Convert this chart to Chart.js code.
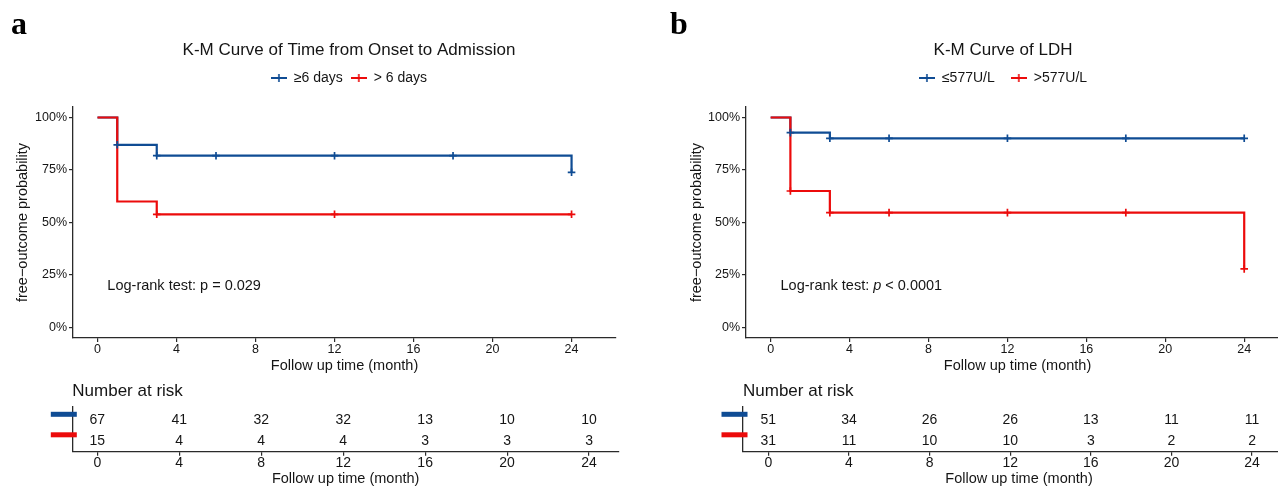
<!DOCTYPE html>
<html>
<head>
<meta charset="utf-8">
<script src="https://cdn.jsdelivr.net/npm/chart.js@4.4.1/dist/chart.umd.min.js"></script>
<style>
  html,body{margin:0;padding:0;background:#fff;width:1278px;height:487px;overflow:hidden;position:relative}
  canvas{position:absolute}
  .tag{position:absolute;font:bold 32px "Liberation Serif","DejaVu Serif",serif;line-height:1;color:#000}
</style>
</head>
<body>
<canvas id="km-a" width="700" height="380" style="left:0;top:0"></canvas>
<canvas id="risk-a" width="640" height="107" style="left:0;top:380px"></canvas>
<canvas id="km-b" width="680" height="380" style="left:640px;top:0"></canvas>
<canvas id="risk-b" width="660" height="107" style="left:640px;top:380px"></canvas>
<div class="tag" style="left:11px;top:7px">a</div>
<div class="tag" style="left:670px;top:7px">b</div>
<script>
/* K-M curves + number-at-risk tables, two panels */

const xTicks=[0,4,8,12,16,20,24];
const yTicks=[0,25,50,75,100];

// panel a — time from onset to admission
const timeA=[0,1,3,24];
const survA_le6=[100,87.0,81.8,73.9];
const survA_gt6=[100,60.0,53.9,53.9];
const censA_le6_t=[1,3,6,12,18,24];
const censA_le6_s=[87.0,81.8,81.8,81.8,81.8,73.9];
const censA_gt6_t=[3,12,24];
const censA_gt6_s=[53.9,53.9,53.9];

// panel b — LDH
const timeB=[0,1,3,24];
const survB_le577=[100,92.8,90.1,90.1];
const survB_gt577=[100,65.0,54.7,27.9];
const censB_t=[1,3,6,12,18,24];
const censB_le577_s=[92.8,90.1,90.1,90.1,90.1,90.1];
const censB_gt577_s=[65.0,54.7,54.7,54.7,54.7,27.9];

// number at risk
const riskTimes=[0,4,8,12,16,20,24];
const riskA_le6=[67,41,32,32,13,10,10];
const riskA_gt6=[15,4,4,4,3,3,3];
const riskB_le577=[51,34,26,26,13,11,11];
const riskB_gt577=[31,11,10,10,3,2,2];

const BLUE='#0F4C94', RED='#EC0B0B', INK='#151515', AXIS='#2a2a2a';
const FONT='"Liberation Sans", Arial, sans-serif';

function legendMark(color){
  const c=document.createElement('canvas'); c.width=16; c.height=10;
  const g=c.getContext('2d'); g.strokeStyle=color;
  g.lineWidth=2; g.beginPath(); g.moveTo(0,5); g.lineTo(16,5); g.stroke();
  g.lineWidth=1.6; g.beginPath(); g.moveTo(8,1); g.lineTo(8,9); g.stroke();
  return c;
}
const pts=(xs,ys)=>xs.map((x,i)=>({x,y:ys[i]}));

function curve(label,xs,ys,color,order){
  return{label,data:pts(xs,ys),borderColor:color,backgroundColor:color,borderWidth:2.2,
    stepped:'before',pointRadius:0,pointStyle:legendMark(color),order};
}
function marks(xs,ys,color){
  return{label:'censor',data:pts(xs,ys),showLine:false,borderColor:color,backgroundColor:color,
    pointStyle:'cross',pointRadius:3.8,borderWidth:1.7,order:-1};
}

const logrankPlugin={id:'logrank',afterDatasetsDraw(chart,args,opts){
  const{ctx,scales:{x,y}}=chart;
  let cx=x.getPixelForValue(opts.at[0]); const cy=y.getPixelForValue(opts.at[1]);
  ctx.save(); ctx.fillStyle=INK; ctx.textBaseline='middle'; ctx.textAlign='left';
  opts.parts.forEach(p=>{
    ctx.font=(p.italic?'italic ':'')+'14.5px '+FONT;
    ctx.fillText(p.text,cx,cy); cx+=ctx.measureText(p.text).width;
  });
  ctx.restore();
}};

const riskPlugin={id:'riskRows',afterDatasetsDraw(chart,args,opts){
  const{ctx,chartArea,scales:{x,y}}=chart;
  ctx.save(); ctx.textAlign='center'; ctx.textBaseline='middle'; ctx.font='14px '+FONT;
  opts.rows.forEach(r=>{
    const py=y.getPixelForValue(r.v);
    ctx.fillStyle=r.color; ctx.fillRect(chartArea.left-21.5,py-8.7,26,5);
    ctx.fillStyle=INK;
    r.counts.forEach((n,i)=>ctx.fillText(String(n),x.getPixelForValue(riskTimes[i]),py));
  });
  ctx.restore();
}};

const tickGrid={display:true,drawOnChartArea:false,drawTicks:true,tickLength:4,color:AXIS,lineWidth:1.2};
const axisBorder={display:true,color:AXIS,width:1.3};
const helper=(pos,size)=>({type:'linear',position:pos,display:true,grid:{display:false},border:{display:false},
  ticks:{display:false},afterFit:s=>{if(pos==='top')s.height=size;else s.width=size;}});

function kmChart(id,o){
  return new Chart(document.getElementById(id),{
    type:'line',
    data:{datasets:o.datasets},
    options:{
      responsive:false,animation:false,events:[],
      layout:{padding:{left:o.padL,right:o.padR,top:0,bottom:0}},
      plugins:{
        title:{display:true,text:o.title,color:INK,font:{family:FONT,size:17,weight:'normal',lineHeight:1.2},
          padding:{top:39.8,bottom:10.8-o.legendPad}},
        legend:{display:true,labels:{usePointStyle:true,pointStyleWidth:16,padding:o.legendPad,color:INK,
          font:{family:FONT,size:14},filter:it=>it.text!=='censor',sort:(a,b)=>a.datasetIndex-b.datasetIndex}},
        tooltip:{enabled:false},
        logrank:{at:[0.5,20],parts:o.logrank}
      },
      scales:{
        x:{type:'linear',min:o.xMin,max:o.xMax,
          afterBuildTicks:s=>{s.ticks=xTicks.map(v=>({value:v}));},
          afterFit:s=>{s.height=42;},
          grid:tickGrid,border:axisBorder,
          ticks:{color:INK,autoSkip:false,maxRotation:0,padding:1,font:{family:FONT,size:12.5,lineHeight:1}},
          title:{display:true,text:'Follow up time (month)',color:INK,font:{family:FONT,size:14.5,lineHeight:1.2},padding:{top:0,bottom:5.8}}},
        y:{type:'linear',min:-5,max:105,
          afterBuildTicks:s=>{s.ticks=yTicks.map(v=>({value:v}));},
          afterFit:s=>{s.width=o.yW;},
          grid:tickGrid,border:axisBorder,
          ticks:{color:INK,padding:2,font:{family:FONT,size:12.5},callback:v=>v+'%'},
          title:{display:true,text:'free\u2212outcome probability',color:INK,font:{family:FONT,size:14.5,lineHeight:1.2},
            padding:{top:o.yTitlePad,bottom:0}}},
        gapTop:helper('top',12),
        gapRight:helper('right',o.gapR)
      }
    },
    plugins:[logrankPlugin]
  });
}

function riskChart(id,o){
  return new Chart(document.getElementById(id),{
    type:'scatter',
    data:{datasets:[{data:[],pointRadius:0}]},
    options:{
      responsive:false,animation:false,events:[],
      layout:{padding:{left:o.padL,right:o.padR,top:0,bottom:0}},
      plugins:{
        legend:{display:false},tooltip:{enabled:false},
        title:{display:true,align:'start',text:'Number at risk',color:INK,
          font:{family:FONT,size:17,weight:'normal',lineHeight:1.2},padding:{top:1.3,bottom:5}},
        riskRows:{rows:o.rows}
      },
      scales:{
        x:{type:'linear',min:o.xMin,max:o.xMax,
          afterBuildTicks:s=>{s.ticks=xTicks.map(v=>({value:v}));},
          afterFit:s=>{s.height=35.3;},
          grid:tickGrid,border:axisBorder,
          ticks:{color:INK,autoSkip:false,maxRotation:0,padding:0,font:{family:FONT,size:14,lineHeight:1}},
          title:{display:true,text:'Follow up time (month)',color:INK,font:{family:FONT,size:14.5,lineHeight:1.2},padding:{top:0,bottom:-1}}},
        y:{type:'linear',min:0.478,max:2.673,afterFit:s=>{s.width=0;},
          grid:{display:false},border:axisBorder,ticks:{display:false}}
      }
    },
    plugins:[riskPlugin]
  });
}

kmChart('km-a',{
  title:'K-M Curve of Time from Onset to Admission',
  datasets:[
    curve('\u22656 days',timeA,survA_le6,BLUE,1),
    curve('> 6 days',timeA,survA_gt6,RED,0),
    marks(censA_le6_t,censA_le6_s,BLUE),
    marks(censA_gt6_t,censA_gt6_s,RED)
  ],
  padL:30,padR:32,gapR:52,yW:43,yTitlePad:-15.7,legendPad:8,
  xMin:-1.24,xMax:26.25,
  logrank:[{text:'Log-rank test: p = 0.029'}]
});

// panel b is cut off at the right edge of the figure
kmChart('km-b',{
  title:'K-M Curve of LDH',
  datasets:[
    curve('\u2264577U/L',timeB,survB_le577,BLUE,1),
    curve('>577U/L',timeB,survB_gt577,RED,0),
    marks(censB_t,censB_le577_s,BLUE),
    marks(censB_t,censB_gt577_s,RED)
  ],
  padL:65,padR:19,gapR:12,yW:41,yTitlePad:-16.7,legendPad:16,
  xMin:-1.25,xMax:26.27,
  logrank:[{text:'Log-rank test: '},{text:'p',italic:true},{text:' < 0.0001'}]
});

riskChart('risk-a',{
  padL:72.3,padR:21,xMin:-1.22,xMax:25.46,
  rows:[{v:2,color:BLUE,counts:riskA_le6},{v:1,color:RED,counts:riskA_gt6}]
});

riskChart('risk-b',{
  padL:103,padR:5,xMin:-1.256,xMax:26.13,
  rows:[{v:2,color:BLUE,counts:riskB_le577},{v:1,color:RED,counts:riskB_gt577}]
});
</script>
</body>
</html>
